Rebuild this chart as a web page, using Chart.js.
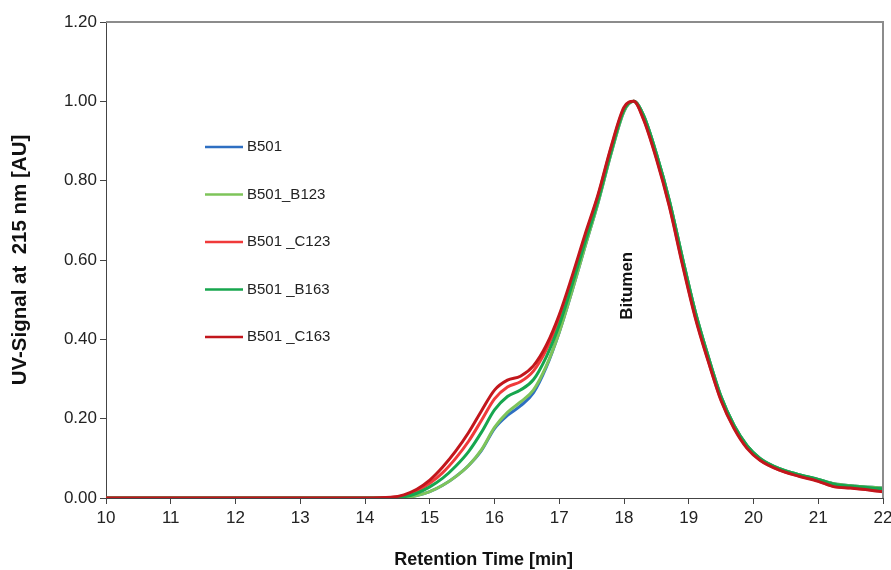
<!DOCTYPE html>
<html>
<head>
<meta charset="utf-8">
<script src="https://cdn.jsdelivr.net/npm/chart.js@4.4.1/dist/chart.umd.min.js"></script>
<style>
  html, body { margin: 0; padding: 0; background: #fff; }
  #wrap { width: 891px; height: 570px; position: relative; }
</style>
</head>
<body>
<div id="wrap"><canvas id="uv-chart"></canvas></div>
<script>
// retention time axis (min) shared by all traces
const retentionTime = [10, 11, 12, 13, 14, 14.4, 14.6, 14.8, 15.0, 15.2, 15.4, 15.6, 15.8, 16.0, 16.2, 16.4, 16.6, 16.8, 17.0, 17.2, 17.4, 17.6, 17.8, 18.0, 18.15, 18.3, 18.5, 18.7, 18.9, 19.1, 19.3, 19.5, 19.7, 19.9, 20.1, 20.4, 20.7, 21.0, 21.25, 21.5, 22.0];

// UV signal at 215 nm, normalised [AU]
const b501 =      [0, 0, 0, 0, 0, 0, 0.001, 0.006, 0.016, 0.032, 0.054, 0.082, 0.12, 0.175, 0.208, 0.232, 0.265, 0.33, 0.418, 0.523, 0.635, 0.745, 0.868, 0.975, 1.0, 0.965, 0.868, 0.75, 0.607, 0.47, 0.357, 0.255, 0.183, 0.132, 0.1, 0.074, 0.059, 0.047, 0.036, 0.031, 0.025];
const b501_b123 = [0, 0, 0, 0, 0, 0, 0.001, 0.006, 0.016, 0.032, 0.054, 0.082, 0.122, 0.178, 0.216, 0.242, 0.272, 0.333, 0.418, 0.523, 0.635, 0.745, 0.868, 0.975, 1.0, 0.965, 0.868, 0.75, 0.607, 0.47, 0.357, 0.255, 0.183, 0.132, 0.1, 0.074, 0.059, 0.047, 0.036, 0.031, 0.025];
const b501_c123 = [0, 0, 0, 0, 0, 0.001, 0.006, 0.018, 0.037, 0.064, 0.1, 0.143, 0.196, 0.25, 0.28, 0.293, 0.32, 0.374, 0.452, 0.553, 0.66, 0.762, 0.882, 0.982, 1.0, 0.957, 0.858, 0.738, 0.594, 0.458, 0.347, 0.247, 0.177, 0.127, 0.096, 0.071, 0.056, 0.043, 0.029, 0.026, 0.017];
const b501_b163 = [0, 0, 0, 0, 0, 0, 0.003, 0.012, 0.028, 0.05, 0.08, 0.117, 0.166, 0.222, 0.256, 0.272, 0.298, 0.356, 0.436, 0.538, 0.645, 0.75, 0.872, 0.978, 1.0, 0.965, 0.868, 0.75, 0.607, 0.47, 0.357, 0.255, 0.183, 0.132, 0.1, 0.074, 0.059, 0.047, 0.035, 0.03, 0.023];
const b501_c163 = [0, 0, 0, 0, 0, 0.002, 0.008, 0.022, 0.045, 0.078, 0.118, 0.165, 0.22, 0.272, 0.297, 0.307, 0.333, 0.385, 0.462, 0.56, 0.665, 0.765, 0.885, 0.985, 1.0, 0.955, 0.855, 0.735, 0.59, 0.455, 0.345, 0.245, 0.175, 0.125, 0.095, 0.07, 0.055, 0.042, 0.028, 0.025, 0.016];

const seriesNames = ['B501', 'B501_B123', 'B501 _C123', 'B501 _B163', 'B501 _C163'];
const seriesValues = [b501, b501_b123, b501_c123, b501_b163, b501_c163];
const seriesColors = ['#2e6fc2', '#7ec45a', '#f03a3a', '#17a64e', '#c2161c'];

const yTicks = [0, 0.2, 0.4, 0.6, 0.8, 1.0, 1.2];
const peakLabel = { text: 'Bitumen', t: 18.05, v: 0.535 };
const xTitle = 'Retention Time [min]';

const FONT = "'Liberation Sans', Arial, sans-serif";

const datasets = seriesValues.map((vals, i) => ({
	label: seriesNames[i],
	data: retentionTime.map((t, k) => ({ x: t, y: vals[k] })),
	borderColor: seriesColors[i],
	backgroundColor: seriesColors[i],
	borderWidth: 3,
	pointRadius: 0,
	cubicInterpolationMode: 'monotone',
	order: seriesValues.length - i   // later series sit on top
}));

// frame, in-plot legend, peak label and x title
const extras = {
	id: 'extras',
	afterDatasetsDraw(chart) {
		const { ctx, chartArea: a, scales } = chart;
		ctx.save();

		ctx.strokeStyle = '#8c8c8c';
		ctx.lineWidth = 2;
		ctx.beginPath();
		ctx.moveTo(a.left, a.top);
		ctx.lineTo(a.right, a.top);
		ctx.lineTo(a.right, a.bottom);
		ctx.stroke();

		const lx = 205, ly = 147, gap = 47.5;
		ctx.font = '15px ' + FONT;
		ctx.textBaseline = 'middle';
		ctx.fillStyle = '#222';
		seriesNames.forEach((name, i) => {
			const y = ly + i * gap;
			ctx.strokeStyle = seriesColors[i];
			ctx.lineWidth = 2.5;
			ctx.beginPath();
			ctx.moveTo(lx, y);
			ctx.lineTo(lx + 38, y);
			ctx.stroke();
			ctx.fillText(name, lx + 42, y);
		});

		ctx.font = 'bold 18px ' + FONT;
		ctx.textAlign = 'center';
		ctx.fillStyle = '#111';
		ctx.fillText(xTitle, a.left + (a.right - a.left) * 0.486, 560);

		const px = scales.x.getPixelForValue(peakLabel.t);
		const py = scales.y.getPixelForValue(peakLabel.v);
		ctx.translate(px, py);
		ctx.rotate(-Math.PI / 2);
		ctx.font = 'bold 17px ' + FONT;
		ctx.fillText(peakLabel.text, 0, 0);
		ctx.restore();
	}
};

new Chart(document.getElementById('uv-chart'), {
	type: 'line',
	data: { datasets },
	options: {
		responsive: true,
		maintainAspectRatio: false,
		animation: false,
		devicePixelRatio: 1,
		layout: { padding: { left: 0, right: 8, top: 22, bottom: 0 } },
		plugins: { legend: { display: false }, tooltip: { enabled: false } },
		scales: {
			x: {
				type: 'linear',
				min: 10,
				max: 22,
				ticks: { stepSize: 1, color: '#222', font: { family: FONT, size: 17 }, padding: 4, maxRotation: 0 },
				grid: { drawOnChartArea: false, drawTicks: true, tickLength: 6, color: '#444' },
				border: { color: '#444', width: 1 },
				afterFit: s => { s.height = 72; s.paddingLeft = 0; s.paddingRight = 0; }
			},
			y: {
				min: 0,
				max: 1.2,
				afterBuildTicks: s => { s.ticks = yTicks.map(v => ({ value: v })); },
				ticks: { color: '#222', font: { family: FONT, size: 17 }, padding: 3, callback: v => v.toFixed(2) },
				grid: { drawOnChartArea: false, drawTicks: true, tickLength: 6, color: '#444' },
				border: { color: '#444', width: 1 },
				title: { display: true, text: 'UV-Signal at  215 nm [AU]', color: '#111', font: { family: FONT, size: 20.5, weight: 'bold' }, padding: { top: 8, bottom: 0 } },
				afterFit: s => { s.width = 106; s.paddingTop = 0; s.paddingBottom = 0; }
			}
		}
	},
	plugins: [extras]
});
</script>
</body>
</html>
